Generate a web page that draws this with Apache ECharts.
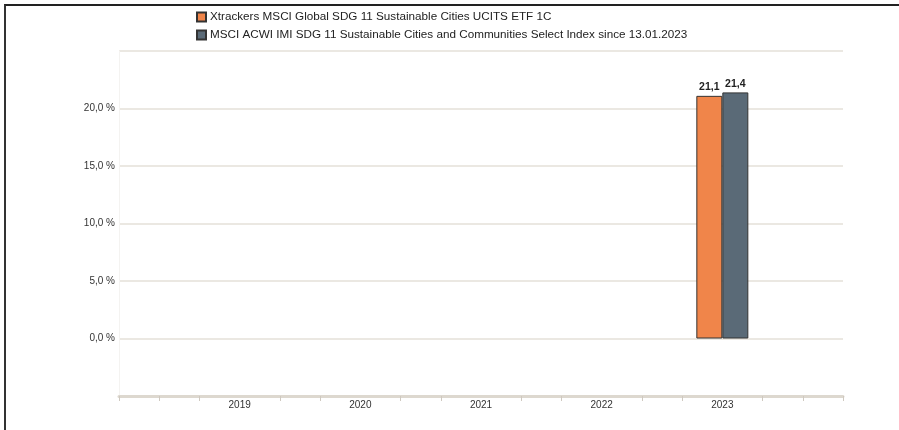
<!DOCTYPE html>
<html>
<head>
<meta charset="utf-8">
<script src="https://cdn.jsdelivr.net/npm/echarts@6/dist/echarts.min.js"></script>
<style>
  html, body { margin: 0; padding: 0; background: #fff; }
  #frame { position: absolute; left: 4px; top: 4px; width: 895px; height: 426px;
           border-left: 2px solid #333; border-top: 2px solid #222; box-sizing: border-box; }
  #main { position: absolute; left: 0; top: 0; width: 899px; height: 430px; }
</style>
</head>
<body>
<div id="frame"></div>
<div id="main"></div>
<script>
var years = ['', '2019', '2020', '2021', '2022', '2023', ''];
var fundValues = [null, null, null, null, null, 21.1, null];
var indexValues = [null, null, null, null, null, 21.4, null];
var fundName = 'Xtrackers MSCI Global SDG 11 Sustainable Cities UCITS ETF 1C';
var indexName = 'MSCI ACWI IMI SDG 11 Sustainable Cities and Communities Select Index since 13.01.2023';
var tickSlots = ['', '', '', '', '', '', '', '', '', '', '', '', '', '', '', '', '', ''];

function comma(v) {
    return v.toFixed(1).replace('.', ',');
}

var chart = echarts.init(document.getElementById('main'));
chart.setOption({
    animation: false,
    textStyle: { fontFamily: 'Liberation Sans, Arial, sans-serif' },
    legend: {
        orient: 'vertical',
        left: 191,
        top: 6,
        itemWidth: 9,
        itemHeight: 9,
        itemGap: 6,
        icon: 'rect',
        textStyle: { fontSize: 11.7, color: '#222', padding: [0, 0, 0, -1] },
        data: [fundName, indexName]
    },
    grid: {
        left: 119,
        right: 56,
        top: 51,
        bottom: 34
    },
    xAxis: [
        {
            type: 'category',
            data: years,
            boundaryGap: false,
            position: 'bottom',
            axisLine: { onZero: false, lineStyle: { color: '#ddd8cf', width: 3 } },
            axisTick: { show: false },
            axisLabel: { fontSize: 10, color: '#333', margin: 4 },
            splitLine: { show: false }
        },
        {
            type: 'category',
            data: tickSlots,
            boundaryGap: true,
            position: 'bottom',
            axisLine: { show: false, onZero: false },
            axisTick: {
                show: true,
                length: 5,
                lineStyle: { color: '#cfc9c0', width: 1 },
                interval: function (i) { return i % 3 !== 0 || i === 0; }
            },
            axisLabel: { show: false },
            splitLine: { show: false }
        }
    ],
    yAxis: {
        type: 'value',
        min: -5,
        max: 25,
        interval: 5,
        axisLine: { show: true, lineStyle: { color: '#f4f3f1', width: 1 } },
        axisTick: { show: false },
        axisLabel: {
            fontSize: 10,
            color: '#333',
            margin: 4,
            formatter: function (v) {
                return (v < 0 || v > 20) ? '' : comma(v) + ' %';
            }
        },
        splitLine: { lineStyle: { color: '#e4e0d9', width: 1.5 } }
    },
    series: [
        {
            name: fundName,
            type: 'bar',
            xAxisIndex: 0,
            data: fundValues,
            barWidth: 26,
            barGap: '0%',
            itemStyle: { color: '#f0854a', borderColor: '#333', borderWidth: 1 },
            label: {
                show: true,
                position: 'top',
                distance: 3,
                fontSize: 10.5,
                fontWeight: 'bold',
                color: '#222',
                formatter: function (p) { return comma(p.value); }
            }
        },
        {
            name: indexName,
            type: 'bar',
            xAxisIndex: 0,
            data: indexValues,
            barWidth: 26,
            barGap: '0%',
            itemStyle: { color: '#5a6a77', borderColor: '#333', borderWidth: 1 },
            label: {
                show: true,
                position: 'top',
                distance: 3,
                fontSize: 10.5,
                fontWeight: 'bold',
                color: '#222',
                formatter: function (p) { return comma(p.value); }
            }
        }
    ]
});
</script>
</body>
</html>
